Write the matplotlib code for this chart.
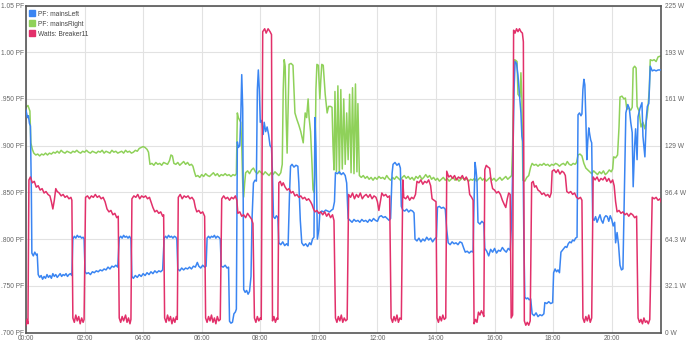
import matplotlib
matplotlib.use("Agg")
import matplotlib.pyplot as plt
from matplotlib.lines import Line2D
import numpy as np

plt.rcParams['font.family'] = ['Liberation Sans', 'DejaVu Sans']

# ---- axis ticks -------------------------------------------------------
hour_ticks = [0, 120, 240, 360, 480, 600, 720, 840, 960, 1080, 1200]
hour_labels = ["00:00", "02:00", "04:00", "06:00", "08:00", "10:00",
               "12:00", "14:00", "16:00", "18:00", "20:00"]
pf_ticks = [0.70, 0.75, 0.80, 0.85, 0.90, 0.95, 1.00, 1.05]
pf_labels = [".700 PF", ".750 PF", ".800 PF", ".850 PF", ".900 PF",
             ".950 PF", "1.00 PF", "1.05 PF"]
watt_max = 225
watt_labels = ["0 W", "32.1 W", "64.3 W", "96.4 W", "129 W", "161 W",
               "193 W", "225 W"]

# ---- series: (minute of day, value) ------------------------------------
mains_left = [
    (0, .938), (3, .930), (5, .932), (7, .924), (9, .921), (11, .850), (12, .785),
    (15, .782), (18, .786), (21, .783), (23, .784), (25, .762), (28, .759), (31, .761),
    (34, .757), (37, .760), (40, .758), (43, .762), (46, .759), (49, .761), (52, .758),
    (55, .763), (58, .760), (61, .762), (64, .759), (67, .761), (70, .763), (73, .760),
    (76, .762), (79, .761), (82, .763), (85, .760), (88, .762), (91, .763), (94, .761),
    (96, .800), (99, .803), (102, .801), (105, .804), (108, .802), (111, .803), (114, .801),
    (117, .802), (119, .800), (121, .765), (124, .763), (128, .764), (132, .762), (136, .765),
    (140, .764), (144, .766), (148, .765), (152, .767), (156, .766), (160, .768), (164, .767),
    (168, .770), (172, .768), (176, .771), (180, .770), (184, .772), (188, .770), (191, .801),
    (194, .803), (197, .801), (200, .804), (203, .802), (206, .803), (209, .801), (212, .803),
    (215, .800), (217, .760), (220, .758), (224, .761), (228, .759), (232, .762), (236, .760),
    (240, .763), (244, .761), (248, .764), (252, .762), (256, .765), (260, .763), (264, .766),
    (268, .764), (272, .766), (276, .765), (280, .767), (283, .801), (286, .803), (289, .801),
    (292, .804), (295, .802), (298, .803), (301, .801), (304, .803), (307, .802), (309, .800),
    (311, .768), (315, .766), (319, .769), (323, .767), (327, .769), (331, .768), (335, .770),
    (339, .768), (343, .771), (347, .770), (351, .775), (354, .771), (358, .769), (362, .772),
    (366, .770), (369, .771), (371, .801), (374, .803), (377, .801), (380, .803), (383, .802),
    (386, .804), (389, .801), (392, .803), (395, .802), (398, .800), (400, .771), (404, .770),
    (408, .772), (412, .769), (415, .770), (417, .712), (420, .710), (423, .711), (426, .720),
    (429, .722), (431, .725), (433, .904), (435, .898), (438, .900), (440, .930), (442, .976),
    (444, .940), (446, .746), (449, .743), (452, .745), (455, .741), (458, .744), (461, .760),
    (463, .820), (466, .860), (469, .863), (472, .862), (474, .960), (476, .981), (478, .960),
    (480, .925), (483, .927), (486, .912), (488, .925), (491, .915), (494, .920), (497, .912),
    (500, .900), (503, .898), (505, .870), (507, .824), (510, .822), (513, .825), (516, .823),
    (518, .796), (522, .794), (526, .797), (530, .793), (534, .795), (537, .793), (540, .850),
    (542, .878), (545, .880), (549, .877), (553, .879), (557, .878), (559, .860), (562, .820),
    (565, .796), (569, .793), (573, .795), (577, .792), (581, .796), (584, .794), (587, .800),
    (590, .802), (592, .930), (594, .900), (597, .800), (600, .810), (602, .828), (606, .830),
    (610, .829), (614, .831), (618, .830), (622, .829), (626, .831), (629, .832), (632, .840),
    (634, .871), (638, .870), (642, .872), (646, .869), (650, .871), (654, .868), (657, .860),
    (660, .822), (664, .820), (668, .818), (672, .821), (676, .819), (680, .820), (684, .818),
    (688, .821), (692, .819), (696, .820), (700, .818), (704, .821), (708, .819), (712, .822),
    (716, .820), (720, .819), (724, .824), (728, .825), (732, .823), (736, .824), (740, .822),
    (744, .820), (747, .822), (750, .870), (752, .880), (756, .882), (760, .879), (764, .881),
    (767, .876), (769, .835), (772, .831), (776, .830), (780, .832), (784, .829), (788, .831),
    (792, .830), (795, .828), (797, .800), (801, .798), (805, .801), (809, .797), (813, .800),
    (817, .798), (821, .802), (825, .799), (829, .801), (833, .797), (837, .800), (841, .802),
    (843, .834), (847, .835), (851, .833), (855, .834), (859, .832), (862, .810), (865, .796),
    (869, .794), (873, .797), (877, .795), (881, .796), (885, .794), (889, .797), (893, .796),
    (897, .790), (900, .786), (904, .787), (908, .785), (912, .787), (916, .786), (918, .840),
    (920, .882), (922, .874), (924, .862), (926, .818), (930, .816), (934, .819), (938, .817),
    (940, .790), (944, .787), (948, .782), (952, .789), (956, .786), (960, .790), (964, .785),
    (968, .788), (972, .787), (976, .791), (980, .788), (984, .786), (988, .790), (992, .788),
    (995, .820), (998, .900), (1000, .960), (1002, .990), (1005, .988), (1008, .975),
    (1010, .962), (1012, .950), (1014, .935), (1016, .910), (1018, .904), (1020, .800),
    (1022, .738), (1025, .736), (1028, .737), (1031, .735), (1034, .736), (1037, .720),
    (1041, .718), (1045, .721), (1049, .717), (1053, .719), (1057, .718), (1061, .720),
    (1063, .732), (1067, .731), (1071, .733), (1075, .731), (1079, .732), (1081, .764),
    (1084, .768), (1087, .765), (1090, .767), (1093, .764), (1096, .786), (1099, .788),
    (1102, .790), (1105, .792), (1108, .791), (1111, .795), (1114, .797), (1117, .796),
    (1120, .799), (1123, .798), (1126, .801), (1129, .802), (1131, .933), (1134, .935),
    (1137, .932), (1139, .934), (1141, .960), (1143, .971), (1145, .965), (1147, .930),
    (1149, .885), (1151, .905), (1153, .919), (1155, .912), (1157, .906), (1159, .903),
    (1161, .822), (1164, .820), (1167, .824), (1170, .818), (1173, .822), (1176, .826),
    (1179, .820), (1182, .817), (1185, .823), (1188, .825), (1191, .824), (1194, .819),
    (1197, .825), (1200, .821), (1203, .814), (1206, .818), (1208, .796), (1211, .807),
    (1214, .794), (1217, .772), (1220, .767), (1223, .768), (1226, .850), (1229, .935),
    (1233, .944), (1236, .940), (1239, .925), (1242, .914), (1244, .856), (1247, .900),
    (1249, .918), (1252, .885), (1254, .931), (1258, .940), (1262, .946), (1264, .910),
    (1268, .888), (1271, .930), (1273, .942), (1276, .945), (1279, .985), (1283, .980),
    (1287, .981), (1291, .980), (1295, .981), (1301, .981),
]

mains_right = [
    (0, .941), (4, .943), (8, .937), (10, .903), (13, .896), (16, .892), (20, .890),
    (24, .891), (28, .889), (32, .891), (36, .890), (40, .892), (44, .890), (48, .892),
    (52, .891), (56, .893), (60, .892), (64, .894), (68, .892), (72, .895), (76, .893),
    (80, .892), (84, .894), (88, .893), (92, .892), (96, .894), (100, .893), (104, .895),
    (108, .893), (112, .892), (116, .894), (120, .893), (124, .895), (128, .893), (132, .892),
    (136, .894), (140, .893), (144, .892), (148, .894), (152, .893), (156, .895), (160, .892),
    (164, .894), (168, .893), (172, .892), (176, .895), (180, .893), (184, .894), (188, .892),
    (192, .893), (196, .894), (200, .892), (204, .895), (208, .893), (212, .894), (216, .892),
    (220, .893), (224, .895), (228, .894), (232, .897), (236, .898), (240, .899), (244, .898),
    (248, .896), (251, .893), (254, .880), (258, .881), (262, .879), (266, .882), (270, .880),
    (274, .881), (278, .879), (282, .882), (286, .881), (290, .880), (294, .884), (297, .890),
    (300, .889), (303, .881), (307, .880), (311, .882), (315, .879), (319, .881), (323, .883),
    (327, .880), (331, .882), (335, .879), (339, .880), (342, .878), (345, .872), (348, .867),
    (352, .868), (356, .866), (360, .869), (364, .867), (368, .870), (372, .868), (376, .867),
    (380, .869), (384, .871), (388, .868), (392, .870), (396, .867), (400, .869), (404, .868),
    (408, .870), (412, .868), (416, .869), (420, .867), (424, .869), (428, .868), (431, .870),
    (433, .935), (435, .930), (437, .928), (440, .925), (442, .900), (444, .860), (446, .845),
    (448, .860), (450, .871), (454, .873), (458, .870), (462, .874), (466, .876), (470, .872),
    (474, .870), (478, .873), (482, .871), (486, .869), (490, .872), (494, .870), (498, .868),
    (502, .871), (506, .869), (510, .872), (514, .870), (518, .868), (522, .871), (525, .880),
    (527, .960), (529, .992), (531, .985), (533, .930), (535, .892), (537, .940), (539, .987),
    (543, .988), (547, .986), (549, .960), (551, .935), (555, .928), (559, .922), (563, .915),
    (566, .908), (568, .903), (570, .920), (572, .935), (575, .930), (578, .950), (580, .930),
    (583, .915), (586, .880), (588, .853), (590, .850), (592, .870), (594, .960), (596, .987),
    (599, .986), (602, .950), (604, .970), (606, .987), (609, .986), (613, .955), (617, .935),
    (620, .942), (624, .942), (627, .941), (629, .900), (631, .874), (633, .958), (636, .872),
    (639, .964), (642, .870), (645, .960), (648, .875), (651, .950), (654, .880), (657, .935),
    (660, .885), (663, .955), (666, .871), (669, .962), (672, .870), (675, .966), (678, .872),
    (680, .945), (683, .868), (687, .866), (691, .868), (695, .865), (699, .867), (703, .864),
    (707, .866), (711, .863), (715, .866), (719, .864), (723, .867), (727, .865), (731, .866),
    (735, .864), (739, .868), (743, .865), (747, .863), (751, .866), (755, .864), (759, .867),
    (763, .865), (767, .863), (771, .866), (775, .868), (779, .865), (783, .867), (787, .864),
    (791, .866), (795, .863), (799, .867), (803, .865), (807, .868), (811, .864), (815, .866),
    (819, .869), (823, .866), (827, .868), (831, .864), (835, .866), (839, .863), (843, .865),
    (847, .862), (851, .864), (855, .866), (859, .863), (863, .865), (867, .862), (871, .864),
    (875, .866), (879, .863), (883, .865), (887, .862), (891, .864), (895, .866), (899, .863),
    (903, .865), (907, .862), (911, .864), (915, .863), (919, .865), (923, .862), (927, .864),
    (931, .866), (935, .863), (939, .865), (943, .862), (947, .864), (951, .866), (955, .863),
    (959, .865), (963, .862), (967, .864), (971, .866), (975, .863), (979, .865), (983, .867),
    (987, .864), (991, .866), (995, .868), (997, .900), (999, .960), (1001, .992),
    (1004, .991), (1006, .990), (1008, .955), (1012, .952), (1014, .978), (1016, .950),
    (1018, .863), (1022, .862), (1026, .866), (1030, .868), (1034, .877), (1037, .881),
    (1041, .879), (1045, .880), (1049, .878), (1053, .880), (1057, .879), (1061, .881),
    (1065, .879), (1069, .880), (1073, .878), (1077, .880), (1081, .879), (1085, .881),
    (1089, .880), (1093, .878), (1097, .880), (1101, .881), (1105, .879), (1109, .883),
    (1113, .880), (1117, .879), (1121, .881), (1125, .880), (1128, .882), (1131, .890),
    (1135, .891), (1139, .889), (1143, .881), (1147, .876), (1151, .874), (1155, .872),
    (1159, .870), (1163, .873), (1167, .871), (1171, .869), (1175, .872), (1179, .870),
    (1183, .873), (1187, .869), (1191, .871), (1195, .874), (1199, .872), (1202, .875),
    (1204, .888), (1208, .887), (1212, .890), (1215, .920), (1217, .952), (1221, .953),
    (1225, .950), (1228, .951), (1231, .939), (1235, .940), (1239, .938), (1242, .941),
    (1244, .983), (1247, .985), (1250, .983), (1252, .942), (1256, .937), (1260, .920),
    (1264, .925), (1268, .918), (1272, .930), (1274, .939), (1277, .960), (1279, .992),
    (1283, .991), (1287, .992), (1291, .990), (1295, .995), (1301, .996),
]

breaker11_watts = [
    (0, 5), (2, 9), (4, 6), (6, 105), (9, 107), (13, 103), (17, 104), (21, 100), (25, 101),
    (29, 98), (33, 99), (37, 96), (41, 97), (45, 95), (49, 94), (52, 90), (55, 85), (58, 91),
    (61, 99), (64, 97), (68, 96), (72, 94), (76, 95), (80, 93), (84, 94), (88, 92), (92, 93),
    (94, 91), (96, 10), (99, 7), (102, 12), (105, 8), (108, 11), (111, 6), (114, 10), (117, 7),
    (119, 9), (122, 93), (126, 94), (130, 92), (134, 94), (138, 93), (142, 95), (146, 93),
    (150, 94), (154, 92), (158, 93), (162, 90), (166, 85), (170, 83), (174, 84), (178, 81),
    (182, 82), (186, 79), (189, 80), (191, 10), (194, 7), (197, 11), (200, 8), (204, 12),
    (207, 7), (210, 10), (213, 6), (215, 9), (217, 92), (221, 94), (225, 93), (229, 95),
    (233, 92), (237, 94), (241, 93), (245, 94), (249, 92), (253, 93), (256, 90), (260, 86),
    (264, 83), (268, 84), (272, 82), (276, 83), (280, 80), (282, 81), (284, 10), (287, 7),
    (290, 12), (293, 8), (296, 11), (299, 6), (302, 10), (305, 7), (308, 11), (310, 9),
    (312, 93), (316, 95), (320, 92), (324, 94), (328, 93), (332, 94), (336, 92), (340, 93),
    (344, 91), (347, 86), (350, 83), (354, 84), (358, 82), (362, 83), (366, 80), (368, 10),
    (371, 7), (374, 11), (377, 8), (380, 12), (383, 7), (386, 10), (389, 6), (392, 11),
    (395, 8), (398, 9), (401, 92), (405, 94), (409, 92), (413, 93), (417, 91), (421, 93),
    (425, 92), (429, 94), (432, 91), (434, 82), (438, 83), (442, 80), (446, 81), (450, 79),
    (454, 82), (458, 80), (462, 78), (465, 75), (468, 10), (471, 7), (474, 11), (477, 8),
    (480, 10), (482, 9), (485, 207), (489, 209), (492, 206), (496, 209), (500, 207),
    (503, 205), (505, 8), (508, 11), (511, 7), (514, 10), (516, 9), (518, 103), (521, 104),
    (524, 101), (527, 103), (531, 100), (535, 98), (539, 99), (543, 96), (547, 97), (551, 94),
    (555, 95), (559, 93), (563, 94), (567, 92), (571, 93), (575, 91), (579, 92), (583, 90),
    (586, 88), (589, 85), (592, 83), (596, 84), (600, 82), (604, 83), (608, 81), (612, 83),
    (616, 80), (620, 82), (624, 79), (628, 81), (631, 77), (634, 10), (637, 7), (640, 11),
    (643, 8), (646, 12), (649, 7), (652, 10), (655, 8), (658, 9), (661, 95), (665, 93),
    (669, 96), (673, 92), (677, 95), (681, 93), (685, 96), (689, 92), (693, 94), (697, 95),
    (701, 93), (705, 95), (709, 92), (713, 94), (717, 93), (720, 90), (723, 84), (726, 90),
    (729, 96), (733, 94), (737, 95), (741, 93), (745, 94), (748, 10), (751, 7), (754, 11),
    (757, 8), (760, 12), (763, 7), (766, 10), (769, 9), (772, 105), (774, 93), (778, 92),
    (782, 94), (786, 91), (790, 93), (794, 92), (798, 95), (801, 104), (805, 103), (809, 105),
    (813, 102), (817, 104), (821, 103), (825, 105), (829, 101), (832, 92), (836, 91),
    (840, 90), (842, 10), (845, 7), (848, 11), (851, 8), (854, 12), (857, 9), (860, 10),
    (862, 111), (866, 107), (870, 108), (874, 106), (878, 108), (882, 105), (886, 107),
    (890, 106), (894, 108), (898, 105), (902, 107), (906, 104), (909, 95), (913, 93),
    (916, 91), (918, 6), (921, 9), (924, 7), (927, 14), (930, 12), (933, 15), (936, 13),
    (938, 11), (940, 112), (943, 115), (946, 114), (950, 113), (953, 104), (956, 99),
    (960, 98), (964, 96), (968, 97), (972, 95), (976, 91), (980, 88), (983, 86), (986, 92),
    (989, 96), (992, 95), (994, 10), (997, 12), (999, 208), (1002, 206), (1005, 209),
    (1008, 207), (1011, 209), (1014, 207), (1017, 206), (1019, 200), (1021, 8), (1024, 5),
    (1027, 7), (1030, 5), (1033, 8), (1036, 103), (1039, 104), (1042, 100), (1045, 101),
    (1049, 98), (1053, 97), (1057, 95), (1061, 96), (1065, 94), (1069, 95), (1073, 93),
    (1076, 96), (1078, 111), (1082, 112), (1086, 110), (1090, 112), (1094, 109), (1098, 111),
    (1102, 110), (1105, 108), (1108, 97), (1112, 96), (1116, 97), (1120, 95), (1124, 96),
    (1128, 93), (1132, 92), (1136, 93), (1139, 91), (1141, 10), (1144, 7), (1147, 11),
    (1150, 8), (1153, 12), (1156, 7), (1159, 10), (1162, 107), (1166, 105), (1170, 107),
    (1174, 104), (1178, 106), (1182, 105), (1186, 107), (1190, 104), (1194, 106), (1198, 103),
    (1202, 105), (1205, 101), (1208, 90), (1211, 83), (1215, 84), (1219, 82), (1223, 83),
    (1227, 81), (1231, 82), (1235, 80), (1239, 82), (1243, 81), (1247, 79), (1251, 80),
    (1254, 10), (1257, 7), (1260, 9), (1263, 6), (1266, 10), (1269, 7), (1272, 8), (1275, 6),
    (1278, 9), (1283, 93), (1287, 92), (1291, 93), (1295, 91), (1299, 92), (1301, 90),
]

series_names = ["PF: mainsLeft", "PF: mainsRight", "Watts: Breaker11"]
series_colors = ["#3a85f2", "#8fd15a", "#e2306a"]

# ---- figure ------------------------------------------------------------
W, H = 690, 344
fig = plt.figure(figsize=(W / 100, H / 100), dpi=100)
ax = fig.add_axes([26 / W, 11.5 / H, 635 / W, 327 / H])
ax2 = ax.twinx()

tick_color = "#666666"
tick_size = 4.8
ax.set_xlim(0, 1301)
ax.set_ylim(0.70, 1.05)
ax.set_xticks(hour_ticks)
ax.set_xticklabels(hour_labels)
ax.set_yticks(pf_ticks)
ax.set_yticklabels(pf_labels)
ax.grid(True, color="#e2e2e2", linewidth=0.8)
ax.set_axisbelow(True)
ax.tick_params(axis="both", length=0, labelsize=tick_size, labelcolor=tick_color)
ax.tick_params(axis="x", pad=2)
ax.tick_params(axis="y", pad=1.5)

ax2.set_ylim(0, watt_max)
ax2.set_yticks(np.linspace(0, watt_max, len(watt_labels)))
ax2.set_yticklabels(watt_labels)
ax2.tick_params(axis="y", length=0, labelsize=tick_size, labelcolor=tick_color, pad=3)

for sp in ax.spines.values():
    sp.set_color("#555555")
    sp.set_linewidth(1.2)
for sp in ax2.spines.values():
    sp.set_visible(False)

lw = 1.1
t, v = zip(*mains_right)
ax.plot(t, v, color=series_colors[1], lw=lw, zorder=2)
t, v = zip(*mains_left)
ax.plot(t, v, color=series_colors[0], lw=lw, zorder=3)
t, v = zip(*breaker11_watts)
ax2.plot(t, v, color=series_colors[2], lw=lw, zorder=2)

handles = [Line2D([], [], ls="none", marker="s", markersize=4.5,
                  markerfacecolor=c, markeredgecolor=c) for c in series_colors]
leg = ax2.legend(handles, series_names, loc="upper left",
                 bbox_to_anchor=(3 / 635, 1 - 5 / 327), frameon=False,
                 fontsize=4.8, handlelength=0.8, handletextpad=0.5,
                 labelspacing=0.45, borderpad=0, borderaxespad=0)
for txt in leg.get_texts():
    txt.set_color("#444444")

fig.savefig("out.png", dpi=100)
